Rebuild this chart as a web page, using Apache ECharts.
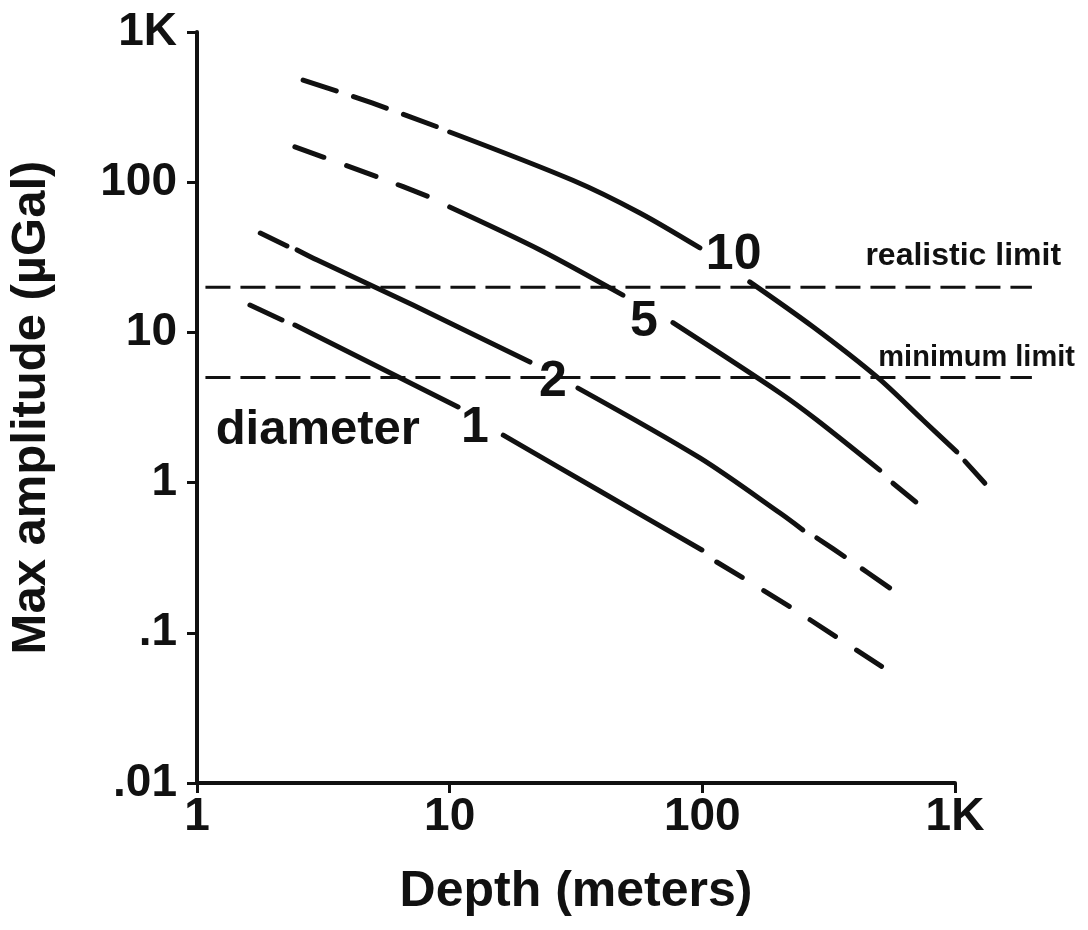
<!DOCTYPE html>
<html>
<head>
<meta charset="utf-8">
<title>Max amplitude vs depth</title>
<script src="https://cdn.jsdelivr.net/npm/echarts@6/dist/echarts.min.js"></script>
<style>
  html, body { margin: 0; padding: 0; background: #fff; }
  #chart { width: 1088px; height: 930px; }
</style>
</head>
<body>
<div id="chart"></div>
<script>
// Tick labels for the two log axes, one entry per decade
const depthTickLabels = ['1', '10', '100', '1K'];
const amplitudeTickLabels = ['.01', '.1', '1', '10', '100', '1K'];

// Anomaly curves, [depth (m), max amplitude (µGal)], one set per cavity diameter (m).
// Each curve is split into its dashed lead-in, the solid part above and below
// the diameter label, and its dashed tail.
const dia10Lead  = [[2.63, 479], [4.93, 337], [9.15, 230]];
const dia10Upper = [[10.0, 216], [30.7, 103], [56.6, 62.4], [97.8, 36.5]];
const dia10Lower = [[154, 21.7], [274, 10.9], [491, 5.05], [746, 2.61], [1017, 1.60]];
const dia10Tail  = [[1094, 1.39], [1313, 0.99]];

const dia5Lead  = [[2.44, 172], [5.30, 107], [8.51, 78.5]];
const dia5Upper = [[10.0, 68.4], [22.8, 35.4], [48.5, 17.7]];
const dia5Lower = [[76.5, 11.6], [203, 3.95], [284, 2.61], [504, 1.21]];
const dia5Tail  = [[568, 0.99], [700, 0.743]];

const dia2Lead  = [[1.78, 45.9], [2.27, 37.6]];
const dia2Upper = [[2.49, 35.4], [2.99, 30.3], [7.16, 15.2], [20.8, 6.35]];
const dia2Lower = [[32.2, 4.26], [97.8, 1.46], [203, 0.627], [250, 0.484]];
const dia2Tail  = [[284, 0.428], [367, 0.320], [589, 0.184]];

const dia1Lead  = [[1.62, 15.2], [2.17, 12.1]];
const dia1Upper = [[2.44, 11.2], [10.8, 3.19]];
const dia1Lower = [[16.3, 2.07], [39.3, 0.879], [99.6, 0.356]];
const dia1Tail  = [[114, 0.296], [222, 0.149], [538, 0.0565]];

// Detection thresholds (µGal) and the depth span of their lines
const realisticLimit = 20;
const minimumLimit = 5;
const limitSpan = [1.08, 2015];

// Text placed in the plot: [depth, amplitude, text]
const diameterLabels = [[133, 32.8, '10'], [58.7, 11.7, '5'], [25.6, 4.68, '2'], [12.6, 2.31, '1']];
const noteLabels = [[1.18, 2.24, 'diameter']];
const realisticLabel = [[440, 32.3, 'realistic limit']];
const minimumLabel = [[495, 6.75, 'minimum limit']];

const INK = '#111';
const FONT = '"Liberation Sans", Arial, Helvetica, sans-serif';

// Plot frame: the drawn axes run over 3 decades of depth and 5 of amplitude.
// The marks use a second, wider grid with the same scale per decade so that
// curves and limit lines can run on past the 1K end of the depth axis.
const FRAME = { left: 197, top: 32, width: 758, height: 751 };
const DEPTH_DECADES = 3;
const MARK_DEPTH_DECADES = 4;

function piece(data, dash) {
  return {
    type: 'line',
    xAxisIndex: 1,
    yAxisIndex: 1,
    data: data,
    showSymbol: false,
    symbol: 'none',
    smooth: 0.3,
    clip: false,
    silent: true,
    lineStyle: { color: INK, width: 5, cap: 'round', join: 'round', type: dash || 'solid' }
  };
}

function limitLine(value) {
  return {
    type: 'line',
    xAxisIndex: 1,
    yAxisIndex: 1,
    data: [[limitSpan[0], value], [limitSpan[1], value]],
    showSymbol: false,
    symbol: 'none',
    clip: false,
    silent: true,
    lineStyle: { color: INK, width: 3, type: [25, 10] }
  };
}

function textSeries(data, size, position) {
  return {
    type: 'scatter',
    xAxisIndex: 1,
    yAxisIndex: 1,
    data: data,
    symbolSize: 1,
    clip: false,
    silent: true,
    itemStyle: { color: 'rgba(0,0,0,0)', opacity: 1 },
    z: 5,
    label: {
      show: true,
      position: position,
      distance: 0,
      formatter: p => p.data[2],
      color: INK,
      opacity: 1,
      fontFamily: FONT,
      fontSize: size,
      fontWeight: 'bold'
    }
  };
}

const decade = v => Math.round(Math.log10(v));

const axisCommon = {
  type: 'log',
  logBase: 10,
  axisLine: { show: true, lineStyle: { color: INK, width: 4 } },
  axisTick: { show: true, length: 10, lineStyle: { color: INK, width: 3 } },
  minorTick: { show: false },
  splitLine: { show: false },
  nameLocation: 'middle',
  nameTextStyle: { color: INK, fontFamily: FONT, fontSize: 50, fontWeight: 'bold' }
};

const hiddenAxis = { type: 'log', logBase: 10, show: false, gridIndex: 1 };

const option = {
  animation: false,
  backgroundColor: '#fff',
  grid: [
    Object.assign({ containLabel: false, outerBoundsMode: 'none' }, FRAME),
    Object.assign({ containLabel: false, outerBoundsMode: 'none' }, FRAME,
      { width: FRAME.width * MARK_DEPTH_DECADES / DEPTH_DECADES })
  ],
  xAxis: [
    Object.assign({}, axisCommon, {
      gridIndex: 0,
      min: 1, max: 1000,
      name: 'Depth (meters)',
      nameGap: 84,
      axisLabel: {
        color: INK, fontFamily: FONT, fontSize: 46, fontWeight: 'bold', margin: 11,
        formatter: v => depthTickLabels[decade(v)]
      }
    }),
    Object.assign({}, hiddenAxis, { min: 1, max: 10000 })
  ],
  yAxis: [
    Object.assign({}, axisCommon, {
      gridIndex: 0,
      min: 0.01, max: 1000,
      name: 'Max amplitude (µGal)',
      nameGap: 141,
      nameRotate: 90,
      nameTextStyle: { color: INK, fontFamily: FONT, fontSize: 49, fontWeight: 'bold' },
      axisLabel: {
        color: INK, fontFamily: FONT, fontSize: 46, fontWeight: 'bold', margin: 20,
        formatter: v => amplitudeTickLabels[decade(v) + 2]
      }
    }),
    Object.assign({}, hiddenAxis, { min: 0.01, max: 1000 })
  ],
  series: [
    limitLine(realisticLimit),
    limitLine(minimumLimit),

    piece(dia10Lead, [35, 18]),
    piece(dia10Upper),
    piece(dia10Lower),
    piece(dia10Tail),

    piece(dia5Lead, [31, 24]),
    piece(dia5Upper),
    piece(dia5Lower),
    piece(dia5Tail),

    piece(dia2Lead),
    piece(dia2Upper),
    piece(dia2Lower),
    piece(dia2Tail, [33, 22]),

    piece(dia1Lead),
    piece(dia1Upper),
    piece(dia1Lower),
    piece(dia1Tail, [30, 25]),

    textSeries(diameterLabels, 50, 'inside'),
    textSeries(noteLabels, 49, 'right'),
    textSeries(realisticLabel, 32, 'right'),
    textSeries(minimumLabel, 29, 'right')
  ]
};

const chart = echarts.init(document.getElementById('chart'), null, { renderer: 'canvas' });
chart.setOption(option);
</script>
</body>
</html>
